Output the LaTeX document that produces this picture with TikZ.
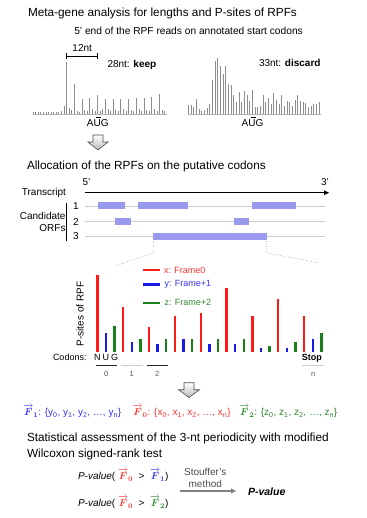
\documentclass[tikz,border=0pt]{standalone}
\usepackage{amsmath}
\usepackage{bm}
\usepackage{fontspec}
\setmainfont{Liberation Sans}
\usetikzlibrary{arrows.meta}
\definecolor{orfblue}{HTML}{9999EE}
\definecolor{fred}{HTML}{FF1A1A}
\definecolor{fblue}{HTML}{1A1AE6}
\definecolor{fgreen}{HTML}{1A801A}
\definecolor{tred}{HTML}{FF3333}
\definecolor{tblue}{HTML}{3333FF}
\definecolor{tgreen}{HTML}{2E8B2E}
\definecolor{hgray}{HTML}{8C8C8C}
\newcommand{\vF}[1]{$\overrightarrow{\bm{F}}_{\bm{#1}}$}
\begin{document}
\begin{tikzpicture}[x=1pt,y=-1pt,
  every node/.style={inner sep=0pt, outer sep=0pt},
  head/.style={font=\fontsize{11.8}{13}\selectfont, anchor=base west},
  lbl/.style={font=\fontsize{10}{12}\selectfont},
  leg/.style={font=\fontsize{9}{11}\selectfont},
  small/.style={font=\fontsize{7.5}{9}\selectfont},
  hbar/.style={draw=hgray, line width=0.9pt},
  orf/.style={fill=orfblue, draw=none},
  track/.style={draw=gray!40, line width=0.8pt},
  dotl/.style={draw=gray, dotted, line width=0.6pt},
  fbar/.style={line width=2.4pt},
  blockarrow/.style={draw=gray!60!black, line width=0.6pt, top color=white, bottom color=gray!55}
]
\useasboundingbox (0,0) rectangle (366,518);

% ---------- Section 1 ----------
\node[head] (h1) at (28,16.5) {Meta-gene analysis for lengths and P-sites of RPFs};
\node[font=\fontsize{10.2}{12}\selectfont, anchor=base west] (h1b) at (74.3,35) {5' end of the RPF reads on annotated start codons};

% left histogram
\draw[gray!60, line width=0.5pt] (33,114) -- (167,114);
\foreach \h [count=\k from 0] in {1.5,1.5,2,1.5,1.5,2,1.5,1.5,2,1.5,2,3,7.5,
  52.3,5.5,3.5, 30,3,2, 15,4,2.5, 16,5,2.5, 18.7,3,4.5, 15,5,2.5, 15,4,2.5,
  15.3,5,2.5, 15,4,2.5, 16.3,4.5,2.5, 16,4,2.5, 17.3,5,2.5, 20,4,2.5}{
  \pgfmathsetmacro{\xx}{33.1+2.583*\k}
  \draw[hbar] (\xx,114) -- ++(0,-\h);
}
\draw[line width=0.7pt] (66.7,53) -- (66.7,59) (66.7,56) -- (97.7,56) (97.7,53) -- (97.7,59);
\node[lbl, anchor=base] (nt12) at (82.2,52) {12nt};
\node[lbl, anchor=base west] (keep) at (107.5,68) {28nt: \textbf{keep}};
\node[lbl, anchor=base] (aug1) at (97.8,127) {AUG};
\draw[line width=0.6pt] (95.8,117.3) -- (101.2,117.3);

% right histogram
\draw[gray!60, line width=0.5pt] (188,114) -- (321,114);
\foreach \h [count=\k from 0] in {9,8.7,6.7,15,5.3,2.7,4.3,6,10.3,34,53,56,47.7,40,47.7,30,28.7,19.3,12,21.7,12,23.3,19.3,13.3,24.3,6.7,6.7,7.7,19.3,11.7,16,10,21,14.3,10.3,19.3,8,13.3,12,7.7,14.3,19.3,12.7,12,11,6.7,7.7,10,10,12}{
  \pgfmathsetmacro{\xx}{188.3+2.67*\k}
  \draw[hbar] (\xx,114) -- ++(0,-\h);
}
\node[lbl, anchor=base west] (discard) at (259,67) {33nt: \textbf{discard}};
\node[lbl, anchor=base] (aug2) at (252.5,127) {AUG};
\draw[line width=0.6pt] (250.5,117.3) -- (255.9,117.3);

% block arrow 1
\path[blockarrow] (93,135) -- (103,135) -- (103,142) -- (108,142) -- (98,150) -- (88,142) -- (93,142) -- cycle;

% ---------- Section 2 ----------
\node[head] (h2) at (27,170) {Allocation of the RPFs on the putative codons};
\node[lbl, anchor=base] (five) at (86.5,185.5) {5'};
\node[lbl, anchor=base] (three) at (325,185.5) {3'};
\node[lbl, anchor=base east] (tr) at (66,196) {Transcript};
\coordinate (ts) at (85,192.7);
\coordinate (te) at (329,192.7);
\draw[line width=0.9pt, -{Triangle[length=5pt,width=4.5pt]}] (ts) -- (te);

\node[lbl, anchor=base east] (cand) at (65.5,219.5) {Candidate};
\node[lbl, anchor=base east] (orfs) at (65.5,231.5) {ORFs};
\draw[line width=0.8pt] (66.5,203) -- (66.5,241);
\node[lbl, anchor=base] (n1) at (76,210) {1};
\node[lbl, anchor=base] (n2) at (76,225.5) {2};
\node[lbl, anchor=base] (n3) at (76,240) {3};
\draw[track] (85,206) -- (325,206);
\draw[track] (85,221.7) -- (325,221.7);
\draw[track] (85,236) -- (325,236);
\fill[orf] (98.3,202.5) rectangle (125,209.5);
\fill[orf] (138.3,202.5) rectangle (187.7,209.5);
\fill[orf] (251.7,202.5) rectangle (295.7,209.5);
\fill[orf] (115,218.2) rectangle (130.7,225.2);
\fill[orf] (234.3,218.2) rectangle (249,225.2);
\fill[orf] (153.3,232.5) rectangle (266.7,239.5);
\coordinate (z1) at (153.3,241);
\coordinate (z2) at (266.7,241);
\coordinate (z3) at (115,266);
\coordinate (z4) at (320,263);
\draw[dotl] (z1) -- (153.3,253) -- (z3);
\draw[dotl] (z2) -- (266.7,253) -- (z4);

% bar chart
\node[lbl, rotate=90, anchor=center] (psites) at (80,314) {P-sites of RPF};
\foreach \r/\b/\g [count=\k from 0] in {76.7/19/25.7, 45/9.7/12.3, 25/7.7/12.3, 35.7/12.3/13, 38.3/7.7/13, 63.3/7.7/13, 35.7/3.3/6, 52.7/4/9.7, 35.7/13/19}{
  \pgfmathsetmacro{\xr}{97.3+25.85*\k}
  \draw[fbar, fred] (\xr,351.7) -- ++(0,-\r);
  \draw[fbar, fblue] (\xr+8.6,351.7) -- ++(0,-\b);
  \draw[fbar, fgreen] (\xr+17.2,351.7) -- ++(0,-\g);
}
\draw[fbar, fred] (143.3,270) -- (160,270);
\draw[fbar, fblue] (143.3,284.3) -- (160,284.3);
\draw[fbar, fgreen] (143.3,302.7) -- (160,302.7);
\node[leg, anchor=west, text=tred] (l0) at (164,270) {x: Frame0};
\node[leg, anchor=west, text=tblue] (l1) at (164.5,284.3) {y: Frame+1};
\node[leg, anchor=west, text=tgreen] (l2) at (164.5,302.7) {z: Frame+2};

\node[leg, anchor=base west] (cod) at (53,360.5) {Codons:};
\node[leg, anchor=base] (cN) at (97.3,360.5) {N};
\node[leg, anchor=base] (cU) at (105.9,360.5) {U};
\node[leg, anchor=base] (cG) at (114.5,360.5) {G};
\node[leg, anchor=base] (stop) at (311.8,360.5) {\textbf{Stop}};
\draw[line width=1.3pt, gray!30!black] (95.7,365.3) -- (116.7,365.3);
\draw[line width=1.3pt, gray!40] (120.7,365.3) -- (142.7,365.3);
\draw[line width=1.3pt, gray!30!black] (146.7,365.3) -- (167.7,365.3);
\draw[line width=1.3pt, gray!40] (302.3,365.3) -- (324.3,365.3);
\node[small, anchor=base, text=gray!70!black] (i0) at (106.2,376) {0};
\node[small, anchor=base, text=gray!70!black] (i1) at (131.7,376) {1};
\node[small, anchor=base, text=gray!70!black] (i2) at (157.2,376) {2};
\node[small, anchor=base, text=gray!70!black] (in) at (313.3,376) {n};

% block arrow 2
\path[blockarrow] (184,382.7) -- (194,382.7) -- (194,389.7) -- (199.5,389.7) -- (189,397.5) -- (178.5,389.7) -- (184,389.7) -- cycle;

% F vectors
\node[lbl, anchor=base west, text=tblue] (f1) at (23.3,415.5) {\vF{1}: \{y\textsubscript{0}, y\textsubscript{1}, y\textsubscript{2}, …, y\textsubscript{n}\}};
\node[lbl, anchor=base west, text=tred] (f0) at (132.7,415.5) {\vF{0}: \{x\textsubscript{0}, x\textsubscript{1}, x\textsubscript{2}, …, x\textsubscript{n}\}};
\node[lbl, anchor=base west, text=tgreen] (f2) at (239.3,415.5) {\vF{2}: \{z\textsubscript{0}, z\textsubscript{1}, z\textsubscript{2}, …, z\textsubscript{n}\}};

% ---------- Section 3 ----------
\node[head] (h3) at (27,441.5) {Statistical assessment of the 3-nt periodicity with modified};
\node[head] (h3b) at (27,457.5) {Wilcoxon signed-rank test};
\node[lbl, anchor=base west] (p1) at (78,479.5) {\textit{P-value}( \textcolor{tred}{\vF{0}} \ > \ \textcolor{tblue}{\vF{1}})};
\node[lbl, anchor=base west] (p2) at (78,506.5) {\textit{P-value}( \textcolor{tred}{\vF{0}} \ > \ \textcolor{tgreen}{\vF{2}})};
\node[lbl, anchor=base, text=gray!60!black] (st1) at (205.3,475.5) {Stouffer's};
\node[lbl, anchor=base, text=gray!60!black] (st2) at (205.3,487.5) {method};
\node[font=\fontsize{10.5}{12}\selectfont, anchor=west] (pv) at (248,491.7) {\textbf{\textit{P-value}}};
\coordinate (s1) at (180,491);
\coordinate (s2) at (236,491);
\draw[gray, line width=1.2pt, -{Triangle[length=5pt,width=5pt]}] (s1) -- (s2);
\end{tikzpicture}
\end{document}
